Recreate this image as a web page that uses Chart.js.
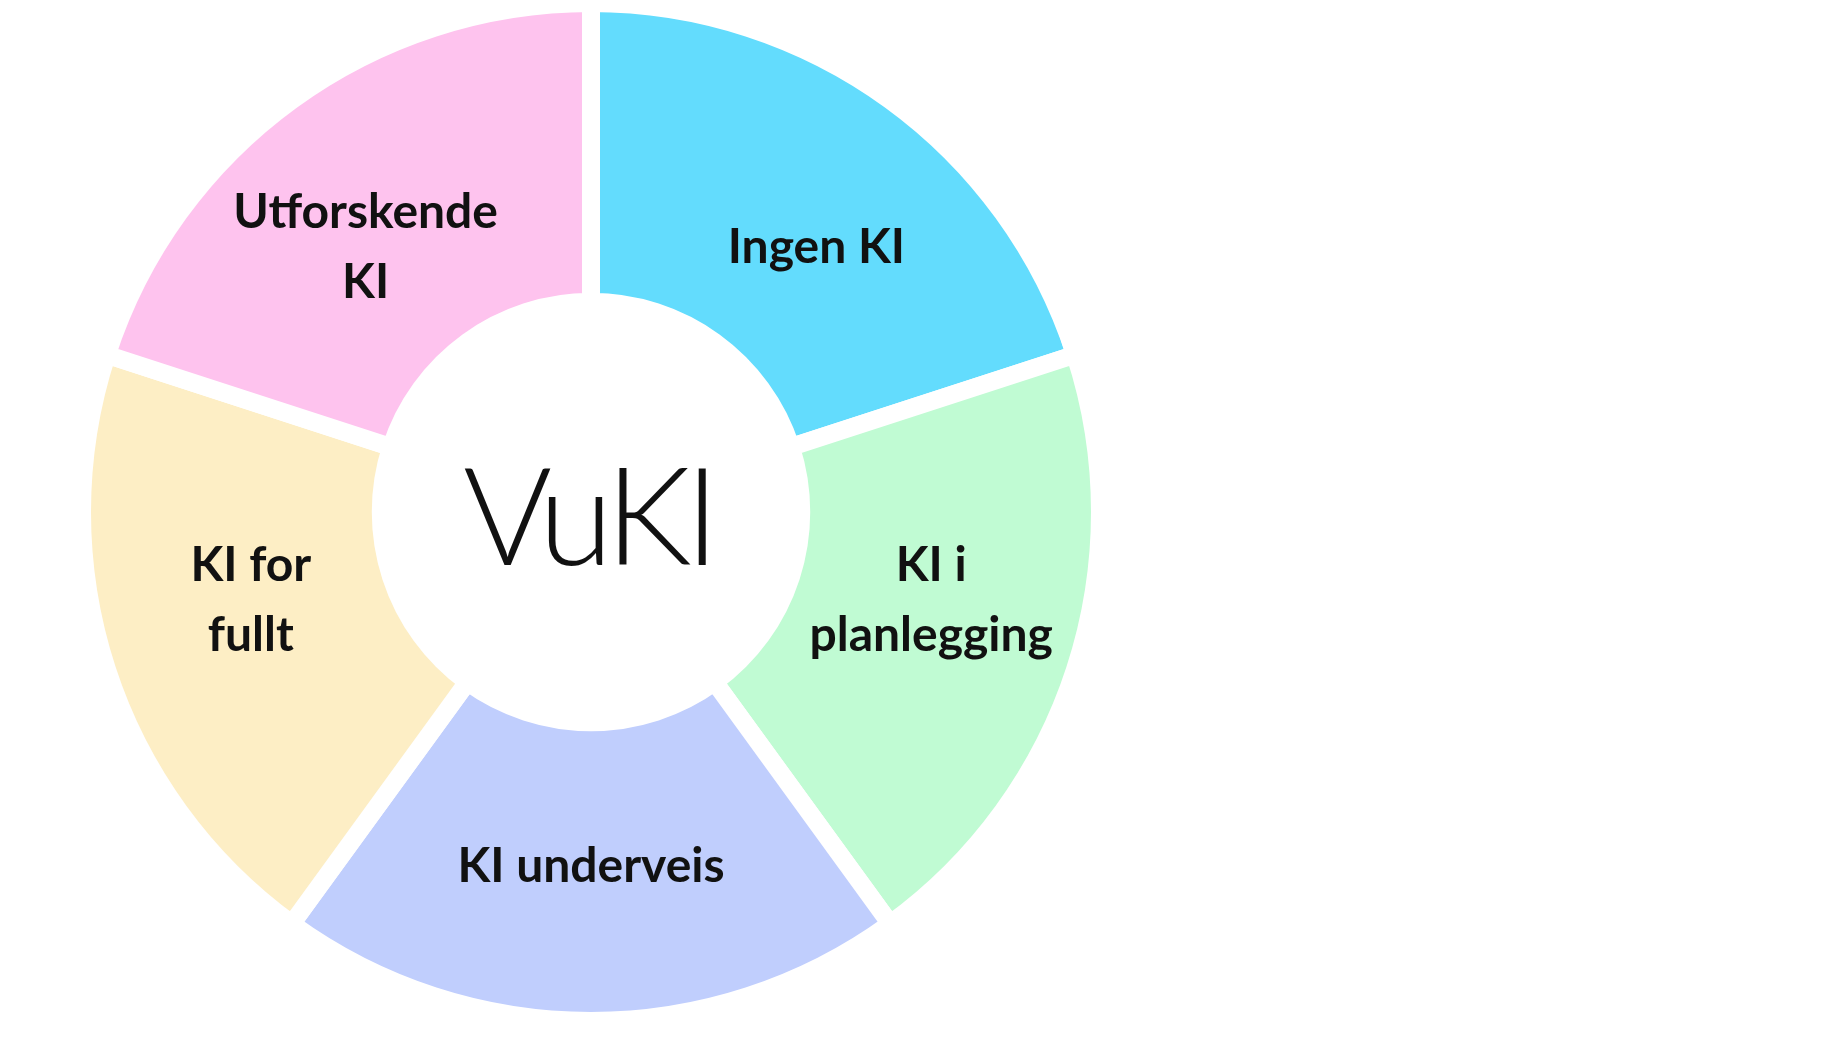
<!DOCTYPE html>
<html>
<head>
<meta charset="utf-8">
<script src="https://cdn.jsdelivr.net/npm/chart.js@4"></script>
<style>
  html, body { margin: 0; padding: 0; background: #ffffff; overflow: hidden; }
  #wrap { position: relative; width: 1836px; height: 1061px; overflow: hidden; }
  #vuki-chart { position: absolute; left: 0; top: -6px; }
</style>
</head>
<body>
<div id="wrap">
  <canvas id="vuki-chart" width="1182" height="1061"></canvas>
</div>
<script>
// Segmenter (med klokka fra toppen)
const segmentLabels = [['Ingen KI'], ['KI i', 'planlegging'], ['KI underveis'], ['KI for', 'fullt'], ['Utforskende', 'KI']];
const segmentValues = [1, 1, 1, 1, 1];
const segmentColors = ['#63dcfd', '#c0fbd3', '#c0cefd', '#fdeec5', '#fec3ee'];
const centerTitle = 'VuKI';

// Tekst i hvert segment + tittel i midten
const labelPlugin = {
    id: 'segmentText',
    afterDatasetsDraw(chart) {
        const ctx = chart.ctx;
        const arcs = chart.getDatasetMeta(0).data;
        const cx = arcs[0].x, cy = arcs[0].y;
        const tilt = 4 * Math.PI / 180;
        ctx.save();
        ctx.fillStyle = '#111111';
        ctx.textAlign = 'center';
        ctx.textBaseline = 'middle';
        ctx.font = 'bold 48px Lato';
        arcs.forEach(function(arc, i) {
            var p = arc.getProps(['startAngle', 'endAngle', 'innerRadius', 'outerRadius']);
            var a = (p.startAngle + p.endAngle) / 2;
            var s = Math.abs(Math.sin(a)) < 1e-3 ? 0 : Math.sign(Math.sin(a));
            var c = Math.abs(Math.cos(a)) < 1e-3 ? 0 : Math.sign(Math.cos(a));
            a = a - tilt * s * c;   // dra teksten litt mot vannrett
            var r = (p.innerRadius + p.outerRadius) / 2 * 0.975;
            var x = cx + Math.cos(a) * r;
            var y = cy + Math.sin(a) * r + 4;
            var lines = segmentLabels[i];
            var lineHeight = 70;
            var startY = y - (lines.length - 1) * lineHeight / 2;
            for (var j = 0; j < lines.length; j++) {
                ctx.fillText(lines[j], x, startY + j * lineHeight);
            }
        });

        ctx.textBaseline = 'alphabetic';
        ctx.font = '300 136px Lato';
        ctx.letterSpacing = '-7px';
        ctx.fillText(centerTitle, cx - 3, cy + 53);
        ctx.restore();
    }
};

const vukiChart = document.getElementById('vuki-chart');
new Chart(vukiChart, {
    type: 'doughnut',
    data: {
        labels: segmentLabels.map(function(l) { return l.join(' '); }),
        datasets: [{
            data: segmentValues,
            backgroundColor: segmentColors,
            borderColor: '#ffffff',
            borderWidth: 18,
            borderJoinStyle: 'miter'
        }]
    },
    options: {
        responsive: false,
        animation: false,
        cutout: '41.3%',
        layout: { padding: { top: 0, bottom: 25, left: 0, right: 0 } },
        plugins: {
            legend: { display: false },
            tooltip: { enabled: false }
        }
    },
    plugins: [labelPlugin]
});
</script>
</body>
</html>
